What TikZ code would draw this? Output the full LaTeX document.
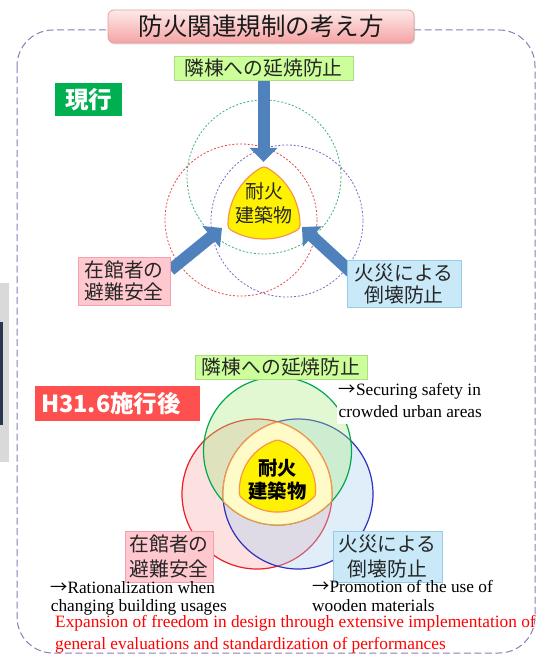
\documentclass[tikz,border=0pt]{standalone}
\usepackage{fontspec}
\setmainfont{Liberation Serif}
\newfontfamily\jp{Noto Sans CJK JP}
\newcommand{\rarr}{{\jp →}}
\usetikzlibrary{arrows.meta,shadows,backgrounds}
\definecolor{dashc}{HTML}{8C7DB5}
\definecolor{titletop}{HTML}{FDEAEA}
\definecolor{titlebot}{HTML}{F5A3A3}
\definecolor{titleborder}{HTML}{E3A0A0}
\definecolor{glab}{HTML}{CCFF99}
\definecolor{glabd}{HTML}{AEDC84}
\definecolor{plab}{HTML}{FFC8CE}
\definecolor{plabd}{HTML}{F2A2AE}
\definecolor{blab}{HTML}{C9E8F8}
\definecolor{blabd}{HTML}{98CBE8}
\definecolor{genko}{HTML}{00B050}
\definecolor{hred}{HTML}{FF5050}
\definecolor{arrowblue}{HTML}{4F81BD}
\definecolor{coreorange}{HTML}{F79646}
\definecolor{paleyel}{HTML}{FFFBC8}
\definecolor{dgreen}{HTML}{3CB371}
\definecolor{dred}{HTML}{E8474C}
\definecolor{dblue}{HTML}{7B68C8}
\definecolor{cgreen}{HTML}{00A650}
\definecolor{cred}{HTML}{EE1C24}
\definecolor{cblue}{HTML}{3030C0}
\definecolor{fgreen}{HTML}{A9EB7E}
\definecolor{fred}{HTML}{F9A6A6}
\definecolor{fblue}{HTML}{A6CEF1}
\definecolor{stripgray}{HTML}{D9D9D9}
\definecolor{stripdark}{HTML}{2A3550}
\begin{document}
\begin{tikzpicture}[x=1pt,y=-1pt,
  jpbox/.style={draw, line width=0.8pt, inner sep=0pt, align=center,
    font=\jp\fontsize{19.8}{22}\selectfont, text=black!85},
  jpboxb/.style={jpbox, font=\jp\fontsize{19.8}{24.5}\selectfont},
  tagbox/.style={inner sep=0pt, text=white, font=\jp\bfseries\fontsize{23.5}{26}\selectfont},
  titlebox/.style={draw=titleborder, line width=0.8pt, rounded corners=6pt,
    top color=titletop, bottom color=titlebot, inner sep=0pt,
    drop shadow={shadow xshift=1pt, shadow yshift=-1.5pt, opacity=0.3},
    font=\jp\fontsize{24.5}{28}\selectfont, text=black!90},
  dcirc/.style={line width=0.8pt, dash pattern=on 2pt off 1.8pt},
  bigarrow/.style={draw=arrowblue, line width=12pt, -{Triangle[length=14pt,width=27pt]}},
  coreline/.style={draw=coreorange, line width=1.2pt},
  entext/.style={inner sep=0pt, font=\fontsize{17.3}{21}\selectfont, text=black},
  vline/.style={line width=1.2pt}]
\useasboundingbox (0,0) rectangle (545,655);

% stray strip at left edge
\fill[stripgray] (0,283) rectangle (9.3,462);
\fill[stripdark] (0,322) rectangle (2.5,425);

% dashed frame
\draw[dashc, line width=1pt, dash pattern=on 7pt off 3.5pt, rounded corners=36pt]
  (17,30) rectangle (535,653);

% title
\node[titlebox, minimum width=306pt, minimum height=33pt] (title) at (261,26.5) {防火関連規制の考え方};

% ---------- current (top) ----------
\node[jpbox, fill=glab, draw=glabd, minimum width=179pt, minimum height=24pt] (g1) at (263.5,68) {隣棟への延焼防止};
\node[tagbox, fill=genko, minimum width=67pt, minimum height=33pt] (genko) at (88.5,99.5) {現行};
\node[jpbox, fill=plab, draw=plabd, minimum width=92pt, minimum height=48pt] (p1) at (124,281) {在館者の\\避難安全};
\node[jpbox, fill=blab, draw=blabd, minimum width=114pt, minimum height=47pt] (b1) at (404,283.5) {火災による\\倒壊防止};

\coordinate (t1) at (263.5,162);
\coordinate (t2) at (222,228);
\coordinate (t3) at (302,227);

\begin{scope}[on background layer]
  \draw[dcirc, dgreen] (264,177) circle[radius=77];
  \draw[dcirc, dred] (241,220) circle[radius=76];
  \draw[dcirc, dblue] (287,221) circle[radius=76];
  \draw[bigarrow] (g1.south) -- (t1);
  \draw[bigarrow] ([yshift=11pt]p1.east) -- (t2);
  \draw[bigarrow] ([xshift=6pt,yshift=10pt]b1.west) -- (t3);
\end{scope}

% rounded Reuleaux core
\draw[coreline, fill=yellow] (261,167.8)
  arc[start angle=240, end angle=300, radius=6]
  arc[start angle=300, end angle=360, radius=66]
  arc[start angle=0, end angle=60, radius=6]
  arc[start angle=60, end angle=120, radius=66]
  arc[start angle=120, end angle=180, radius=6]
  arc[start angle=180, end angle=240, radius=66] -- cycle;
\node[inner sep=0pt, align=center, font=\jp\fontsize{19}{24}\selectfont, text=black!85] (core1) at (264,203.5) {耐火\\建築物};

% ---------- after H31.6 (bottom) ----------
\fill[fred, fill opacity=0.35] (257,494) circle[radius=75];
\draw[vline, cred] (257,494) circle[radius=75];
\fill[fblue, fill opacity=0.35] (298,494) circle[radius=75];
\draw[vline, cblue] (298,494) circle[radius=75];
\fill[fgreen, fill opacity=0.35] (277.5,451) circle[radius=74];
\draw[vline, cgreen] (277.5,451) circle[radius=74];

% white box behind the note at upper right
\fill[white] (337,378) rectangle (487,424);

% triple intersection
\begin{scope}
  \clip (257,494) circle[radius=75];
  \clip (298,494) circle[radius=75];
  \fill[paleyel] (277.5,451) circle[radius=74];
\end{scope}
\begin{scope}
  \clip (257,494) circle[radius=75];
  \clip (298,494) circle[radius=75];
  \draw[coreline] (277.5,451) circle[radius=74];
\end{scope}
\begin{scope}
  \clip (298,494) circle[radius=75];
  \clip (277.5,451) circle[radius=74];
  \draw[coreline] (257,494) circle[radius=75];
\end{scope}
\begin{scope}
  \clip (257,494) circle[radius=75];
  \clip (277.5,451) circle[radius=74];
  \draw[coreline] (298,494) circle[radius=75];
\end{scope}

% inner yellow core
\begin{scope}
  \clip (263.15,490.4) circle[radius=52.5];
  \clip (291.85,490.4) circle[radius=52.5];
  \fill[yellow] (277.5,460.3) circle[radius=51.8];
\end{scope}
\begin{scope}
  \clip (263.15,490.4) circle[radius=52.5];
  \clip (291.85,490.4) circle[radius=52.5];
  \draw[coreline] (277.5,460.3) circle[radius=51.8];
\end{scope}
\begin{scope}
  \clip (291.85,490.4) circle[radius=52.5];
  \clip (277.5,460.3) circle[radius=51.8];
  \draw[coreline] (263.15,490.4) circle[radius=52.5];
\end{scope}
\begin{scope}
  \clip (263.15,490.4) circle[radius=52.5];
  \clip (277.5,460.3) circle[radius=51.8];
  \draw[coreline] (291.85,490.4) circle[radius=52.5];
\end{scope}
\node[inner sep=0pt, align=center, font=\jp\bfseries\fontsize{19.3}{23}\selectfont, text=black] (core2) at (277.5,479.5) {耐火\\建築物};

\node[jpbox, fill=glab, draw=glabd, minimum width=172pt, minimum height=24pt] (g2) at (281,367) {隣棟への延焼防止};
\node[tagbox, fill=hred, minimum width=165pt, minimum height=35pt, inner xsep=6pt, text width=153pt, align=left] (h31) at (117.5,403.5) {H31.6施行後};
\node[jpboxb, fill=plab, draw=plabd, minimum width=88pt, minimum height=51pt] (p2) at (169,556.5) {在館者の\\避難安全};
\node[jpboxb, fill=blab, draw=blabd, minimum width=109pt, minimum height=51pt] (b2) at (387.5,556.5) {火災による\\倒壊防止};

% English notes
\node[entext, anchor=base west] (e1) at (338.5,395) {\rarr Securing safety in};
\node[entext, anchor=base west] (e2) at (338.5,417) {crowded urban areas};
\node[entext, anchor=base west] (e3) at (50,593) {\rarr Rationalization when};
\node[entext, anchor=base west] (e4) at (50.7,611.5) {changing building usages};
\node[entext, anchor=base west] (e5) at (312,592) {\rarr Promotion of the use of};
\node[entext, anchor=base west] (e6) at (312,611) {wooden materials};
\node[entext, anchor=base west, text=red] (e7) at (55,627) {Expansion of freedom in design through extensive implementation of};
\node[entext, anchor=base west, text=red] (e8) at (55,649) {general evaluations and standardization of performances};
\end{tikzpicture}
\end{document}
